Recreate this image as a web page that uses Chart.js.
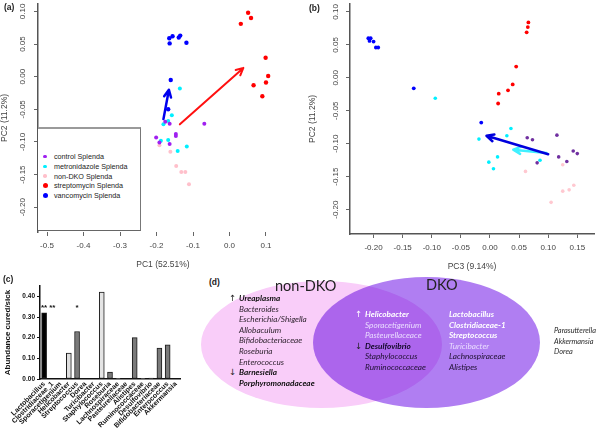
<!DOCTYPE html>
<html>
<head>
<meta charset="utf-8">
<script src="https://cdn.jsdelivr.net/npm/chart.js@4.4.0/dist/chart.umd.min.js"></script>
<style>
html,body{margin:0;padding:0;background:#fff;}
#wrap{position:relative;width:604px;height:434px;overflow:hidden;font-family:"Liberation Sans",Arial,sans-serif;}
canvas{position:absolute;}
.plab{position:absolute;font:bold 8.5px "Liberation Sans",Arial,sans-serif;color:#222;}
#legA{position:absolute;left:38px;top:127px;width:103px;height:104px;border-top:2px solid #9a9a9a;border-right:1.5px solid #777;border-bottom:1.5px solid #666;background:#fff;box-sizing:border-box;}
#legA .li{position:absolute;left:16px;font-size:7.2px;color:#222;line-height:9px;white-space:nowrap;}
#legA .dot{position:absolute;border-radius:50%;}
.ell{position:absolute;border-radius:50%;}
.vt{position:absolute;font-family:Lato,"Open Sans",sans-serif;font-style:italic;font-size:8.2px;line-height:10.6px;white-space:nowrap;}
.vt div{height:10.6px;}
.big{position:absolute;font-family:Lato,"Open Sans",sans-serif;font-size:14.5px;color:#222;line-height:16px;}
.arr{position:absolute;font-family:"DejaVu Sans",sans-serif;font-size:8.5px;color:#222;line-height:10.6px;}
</style>
</head>
<body>
<div id="wrap">
  <canvas id="pcaA" width="300" height="272" style="left:0;top:0"></canvas>
  <canvas id="pcaB" width="304" height="274" style="left:300px;top:0"></canvas>
  <canvas id="ratioC" width="200" height="152" style="left:0;top:282px"></canvas>
  <div id="legA"></div>
  <div class="plab" style="left:4px;top:2px">(a)</div>
  <div class="plab" style="left:309px;top:3px">(b)</div>
  <div class="plab" style="left:3px;top:274px">(c)</div>
  <div class="plab" style="left:209px;top:277px">(d)</div>

  <div class="ell" style="left:201px;top:281px;width:241px;height:127px;background:#f9cdf9"></div>
  <div class="ell" style="left:313px;top:277px;width:227px;height:131px;background:#b07ef2;mix-blend-mode:multiply"></div>
  <div class="big" style="left:275px;top:278px">non-DKO</div>
  <div class="big" style="left:426px;top:277px">DKO</div>

  <div class="arr" style="left:229px;top:293px">↑</div>
  <div class="arr" style="left:229px;top:367px">↓</div>
  <div class="vt" style="left:239px;top:293px;color:#2a1f2a">
    <div style="font-weight:bold;color:#111">Ureaplasma</div>
    <div>Bacteroides</div>
    <div>Escherichia/Shigella</div>
    <div>Allobaculum</div>
    <div>Bifidobacteriaceae</div>
    <div>Roseburia</div>
    <div>Enterococcus</div>
    <div style="font-weight:bold;color:#111">Barnesiella</div>
    <div style="font-weight:bold;color:#111">Porphyromonadaceae</div>
  </div>

  <div class="arr" style="left:355px;top:309px;color:#fff">↑</div>
  <div class="arr" style="left:355px;top:341px">↓</div>
  <div class="vt" style="left:365px;top:309px;color:#1e1030">
    <div style="font-weight:bold;color:#fff">Helicobacter</div>
    <div style="color:#eadcff">Sporacetigenium</div>
    <div style="color:#eadcff">Pasteurellaceace</div>
    <div style="font-weight:bold;color:#120828">Desulfovibrio</div>
    <div>Staphylococcus</div>
    <div>Ruminococcaceae</div>
  </div>

  <div class="vt" style="left:449px;top:309px;color:#1e1030">
    <div style="font-weight:bold;color:#fff">Lactobacillus</div>
    <div style="font-weight:bold;color:#fff">Clostridiaceae-1</div>
    <div style="font-weight:bold;color:#fff">Streptococcus</div>
    <div style="color:#eadcff">Turicibacter</div>
    <div>Lachnospiraceae</div>
    <div>Alistipes</div>
  </div>

  <div class="vt" style="left:554px;top:326px;color:#2a2a2a;font-size:7.4px">
    <div>Parasutterella</div>
    <div>Akkermansia</div>
    <div>Dorea</div>
  </div>
</div>

<script>
// ---- panel (a): PC1 vs PC2 ----
const controlA_x = [-0.176, -0.164, -0.069, -0.147, -0.147, -0.201, -0.192, -0.164];
const controlA_y = [-0.069, -0.072, -0.072, -0.088, -0.091, -0.093, -0.101, -0.103];
const metroA_x = [-0.136, -0.158, -0.181, -0.168, -0.188, -0.168, -0.142, -0.117];
const metroA_y = [-0.018, -0.059, -0.073, -0.068, -0.098, -0.097, -0.114, -0.107];
const nonDkoA_x = [-0.192, -0.162, -0.146, -0.132, -0.121, -0.111];
const nonDkoA_y = [-0.105, -0.115, -0.137, -0.146, -0.146, -0.165];
const streptoA_x = [0.051, 0.059, 0.031, 0.099, 0.106, 0.100, 0.066, 0.090];
const streptoA_y = [0.098, 0.090, 0.081, 0.029, 0.001, -0.009, -0.013, -0.030];
const vancoA_x = [-0.165, -0.156, -0.164, -0.139, -0.135, -0.118, -0.161, -0.168];
const vancoA_y = [0.059, 0.062, 0.051, 0.060, 0.063, 0.052, -0.005, -0.050];
const arrowA_vanco = [[-0.181, -0.065], [-0.166, -0.020]];
const arrowA_strepto = [[-0.136, -0.073], [0.038, 0.0135]];
const ticksA_x = [-0.5, -0.4, -0.3, -0.2, -0.1, 0.0, 0.1];
const ticksA_y = [-0.20, -0.15, -0.10, -0.05, 0.00, 0.05, 0.10];

// ---- panel (b): PC3 vs PC2 ----
const controlB_x = [0.064, 0.073, 0.115, 0.118, 0.143, 0.150, 0.132, 0.081];
const controlB_y = [-0.091, -0.094, -0.087, -0.120, -0.111, -0.115, -0.127, -0.129];
const metroB_x = [-0.094, 0.036, 0.029, -0.019, 0.013, 0.086, -0.002, 0.006];
const metroB_y = [-0.031, -0.077, -0.088, -0.093, -0.120, -0.125, -0.128, -0.138];
const nonDkoB_x = [0.125, 0.061, 0.144, 0.136, 0.125, 0.105];
const nonDkoB_y = [-0.132, -0.142, -0.163, -0.170, -0.172, -0.189];
const streptoB_x = [0.066, 0.065, 0.063, 0.045, 0.039, 0.031, 0.015, 0.014];
const streptoB_y = [0.084, 0.077, 0.069, 0.017, -0.010, -0.019, -0.024, -0.039];
const vancoB_x = [-0.209, -0.207, -0.205, -0.200, -0.196, -0.192, -0.131, -0.015];
const vancoB_y = [0.060, 0.056, 0.060, 0.055, 0.046, 0.046, -0.016, -0.068];
const arrowB_vanco = [[0.100, -0.116], [-0.006, -0.088]];
const arrowB_metro = [[0.097, -0.114], [0.040, -0.109]];
const ticksB_x = [-0.20, -0.15, -0.10, -0.05, 0.00, 0.05, 0.10, 0.15];
const ticksB_y = [-0.20, -0.15, -0.10, -0.05, 0.00, 0.05, 0.10];

// ---- panel (c): abundance cured/sick ----
const genera = ['Lactobacillus', 'Clostridiaceae_1', 'Sporacetigenium', 'Helicobacter', 'Streptococcus',
  'Dorea', 'Turicibacter', 'Staphylococcus', 'Roseburia', 'Lachnospiraceae', 'Pasteurellaceae',
  'Alistipes', 'Ruminococcaceae', 'Desulfovibrio', 'Bifidobacteriaceae', 'Enterococcus', 'Akkermansia'];
const ratio = [0.32, 0, 0, 0.125, 0.23, 0, 0, 0.42, 0.033, 0.003, 0, 0.20, 0.003, 0.005, 0.15, 0.165, 0];
const signif = ['**', '**', '', '', '*', '', '', '', '', '', '', '', '', '', '', '', ''];
const ticksC_y = [0, 0.05, 0.10, 0.15, 0.20, 0.25, 0.30, 0.35, 0.40, 0.45];

const barFill = ['#000', '#777', '#777', '#dedede', '#7a7a7a', '#777', '#777', '#e4e4e4', '#7a7a7a',
  '#7a7a7a', '#777', '#7a7a7a', '#7a7a7a', '#7a7a7a', '#7a7a7a', '#7a7a7a', '#777'];

function pts(xs, ys){ return xs.map((x, i) => ({x: x, y: ys[i]})); }

function arrowPlugin(id, arrows){
  return {
    id: id,
    afterDatasetsDraw(chart){
      const ctx = chart.ctx, sx = chart.scales.x, sy = chart.scales.y;
      arrows.forEach(a => {
        const x0 = sx.getPixelForValue(a.from[0]), y0 = sy.getPixelForValue(a.from[1]);
        const x1 = sx.getPixelForValue(a.to[0]), y1 = sy.getPixelForValue(a.to[1]);
        const ang = Math.atan2(y1 - y0, x1 - x0), h = 8;
        ctx.save();
        ctx.strokeStyle = a.color; ctx.lineWidth = a.width;
        ctx.lineCap = 'round'; ctx.lineJoin = 'round';
        ctx.beginPath();
        ctx.moveTo(x0, y0); ctx.lineTo(x1, y1);
        ctx.moveTo(x1 - h*Math.cos(ang - 0.45), y1 - h*Math.sin(ang - 0.45));
        ctx.lineTo(x1, y1);
        ctx.lineTo(x1 - h*Math.cos(ang + 0.45), y1 - h*Math.sin(ang + 0.45));
        ctx.stroke();
        ctx.restore();
      });
    }
  };
}

function fixTicks(list){ return s => { s.ticks = list.map(v => ({value: v})); }; }

function pcaScales(o){
  return {
    x: {
      type: 'linear', min: o.xmin, max: o.xmax,
      afterBuildTicks: fixTicks(o.xticks),
      afterFit: s => { s.height = o.xh; s.paddingLeft = 0; s.paddingRight = 0; },
      ticks: {color: '#444', font: {size: 8, family: 'Liberation Sans'}, padding: 5, maxRotation: 0,
        callback: v => v.toFixed(o.xdec)},
      grid: {drawOnChartArea: false, tickLength: 4, color: '#666'},
      border: {display: o.xborder, color: '#555', width: 1.5},
      title: {display: true, text: o.xtitle, color: '#444', font: {size: 8.5, family: 'Liberation Sans'}, padding: {top: 0, bottom: 2}}
    },
    y: {
      type: 'linear', min: o.ymin, max: o.ymax,
      afterBuildTicks: fixTicks(o.yticks),
      afterFit: s => { s.width = o.yw; s.paddingTop = 0; s.paddingBottom = 0; },
      ticks: {color: '#444', font: {size: 8, family: 'Liberation Sans'}, padding: o.ypad, minRotation: 90, maxRotation: 90,
        crossAlign: 'center', callback: v => v.toFixed(2)},
      grid: {drawOnChartArea: false, tickLength: 4, color: '#666'},
      border: {display: true, color: '#555', width: 1.5},
      title: {display: true, text: 'PC2 (11.2%)', color: '#444', font: {size: 8.5, family: 'Liberation Sans'}, padding: {top: o.ytpad, bottom: 0}}
    }
  };
}

function dset(label, xs, ys, color, r){
  return {label: label, data: pts(xs, ys), backgroundColor: color, borderWidth: 0, pointRadius: r};
}

const chartA = new Chart(document.getElementById('pcaA'), {
  type: 'scatter',
  data: {datasets: [
    dset('control Splenda', controlA_x, controlA_y, '#a020f0', 2),
    dset('metronidazole Splenda', metroA_x, metroA_y, '#00f0ff', 2),
    dset('non-DKO Splenda', nonDkoA_x, nonDkoA_y, '#ffc0cb', 2),
    dset('streptomycin Splenda', streptoA_x, streptoA_y, '#ff0000', 2.2),
    dset('vancomycin Splenda', vancoA_x, vancoA_y, '#0000ff', 2.2)
  ]},
  options: {
    responsive: false, animation: false,
    layout: {padding: {top: 0, right: 12, left: 0, bottom: 0}},
    plugins: {legend: {display: false}, tooltip: {enabled: false}},
    scales: pcaScales({xmin: -0.5247, xmax: 0.1603, ymin: -0.238, ymax: 0.1114, xticks: ticksA_x, yticks: ticksA_y,
      xdec: 1, xh: 40, yw: 38, ypad: 2, ytpad: 0, xborder: false, xtitle: 'PC1 (52.51%)'})
  },
  plugins: [arrowPlugin('arrowsA', [
    {from: arrowA_vanco[0], to: arrowA_vanco[1], color: '#0000ee', width: 2.5},
    {from: arrowA_strepto[0], to: arrowA_strepto[1], color: '#ff1010', width: 2}
  ])]
});

const chartB = new Chart(document.getElementById('pcaB'), {
  type: 'scatter',
  data: {datasets: [
    dset('control Splenda', controlB_x, controlB_y, '#7030a0', 1.8),
    dset('metronidazole Splenda', metroB_x, metroB_y, '#00f0ff', 1.8),
    dset('non-DKO Splenda', nonDkoB_x, nonDkoB_y, '#ffc8d0', 1.8),
    dset('streptomycin Splenda', streptoB_x, streptoB_y, '#ff0000', 1.9),
    dset('vancomycin Splenda', vancoB_x, vancoB_y, '#0000ff', 1.9)
  ]},
  options: {
    responsive: false, animation: false,
    layout: {padding: {top: 0, right: 10, left: 0, bottom: 0}},
    plugins: {legend: {display: false}, tooltip: {enabled: false}},
    scales: pcaScales({xmin: -0.2405, xmax: 0.1787, ymin: -0.237, ymax: 0.112, xticks: ticksB_x, yticks: ticksB_y,
      xdec: 2, xh: 40, yw: 50, ypad: 1, ytpad: 8, xborder: true, xtitle: 'PC3 (9.14%)'})
  },
  plugins: [arrowPlugin('arrowsB', [
    {from: arrowB_metro[0], to: arrowB_metro[1], color: '#40f0ff', width: 2.5},
    {from: arrowB_vanco[0], to: arrowB_vanco[1], color: '#0000dd', width: 2.5}
  ])]
});

// legend for panel (a), built from the chart's datasets
const legSizes = [3.5, 3.5, 3.5, 5, 5];
const legA = document.getElementById('legA');
chartA.data.datasets.forEach((ds, i) => {
  const top = 23 + i*9.8;
  const d = document.createElement('span');
  d.className = 'dot';
  d.style.cssText = `left:${7 - legSizes[i]/2}px;top:${top + 4.5 - legSizes[i]/2}px;width:${legSizes[i]}px;height:${legSizes[i]}px;background:${ds.backgroundColor}`;
  legA.appendChild(d);
  const t = document.createElement('div');
  t.className = 'li';
  t.style.top = top + 'px';
  t.textContent = ds.label;
  legA.appendChild(t);
});

const sigPlugin = {
  id: 'signif',
  afterDatasetsDraw(chart){
    const ctx = chart.ctx, sx = chart.scales.x, sy = chart.scales.y;
    ctx.save();
    ctx.font = 'bold 8px "Liberation Sans", Arial';
    ctx.fillStyle = '#111'; ctx.textAlign = 'center'; ctx.textBaseline = 'middle';
    signif.forEach((s, i) => { if (s) ctx.fillText(s, sx.getPixelForValue(i), sy.getPixelForValue(0.35) + 1); });
    ctx.restore();
  }
};

new Chart(document.getElementById('ratioC'), {
  type: 'bar',
  data: {labels: genera, datasets: [{data: ratio, backgroundColor: barFill, borderColor: '#1a1a1a', borderWidth: 1,
    barThickness: 5, borderSkipped: false}]},
  options: {
    responsive: false, animation: false,
    layout: {padding: {top: 4, right: 20, left: 0, bottom: 0}},
    plugins: {legend: {display: false}, tooltip: {enabled: false}},
    scales: {
      x: {
        afterFit: s => { s.height = 55; s.paddingLeft = 0; s.paddingRight = 0; },
        ticks: {autoSkip: false, minRotation: 45, maxRotation: 45, padding: 1, color: '#111',
          font: {size: 7, weight: 'bold', family: 'Liberation Sans'}},
        grid: {display: false, drawTicks: false},
        border: {display: true, color: '#111', width: 1.5}
      },
      y: {
        min: 0, max: 0.45,
        afterBuildTicks: fixTicks(ticksC_y),
        afterFit: s => { s.width = 40; s.paddingTop = 0; s.paddingBottom = 0; },
        ticks: {padding: 2, color: '#111', font: {size: 6.5, weight: 'bold', family: 'Liberation Sans'},
          callback: v => v.toFixed(2)},
        grid: {drawOnChartArea: false, tickLength: 3, color: '#111'},
        border: {display: true, color: '#111', width: 1.5},
        title: {display: true, text: 'Abundance cured/sick', color: '#111',
          font: {size: 8, weight: 'bold', family: 'Liberation Sans'}, padding: {top: 3, bottom: 0}}
      }
    }
  },
  plugins: [sigPlugin]
});
</script>
</body>
</html>
